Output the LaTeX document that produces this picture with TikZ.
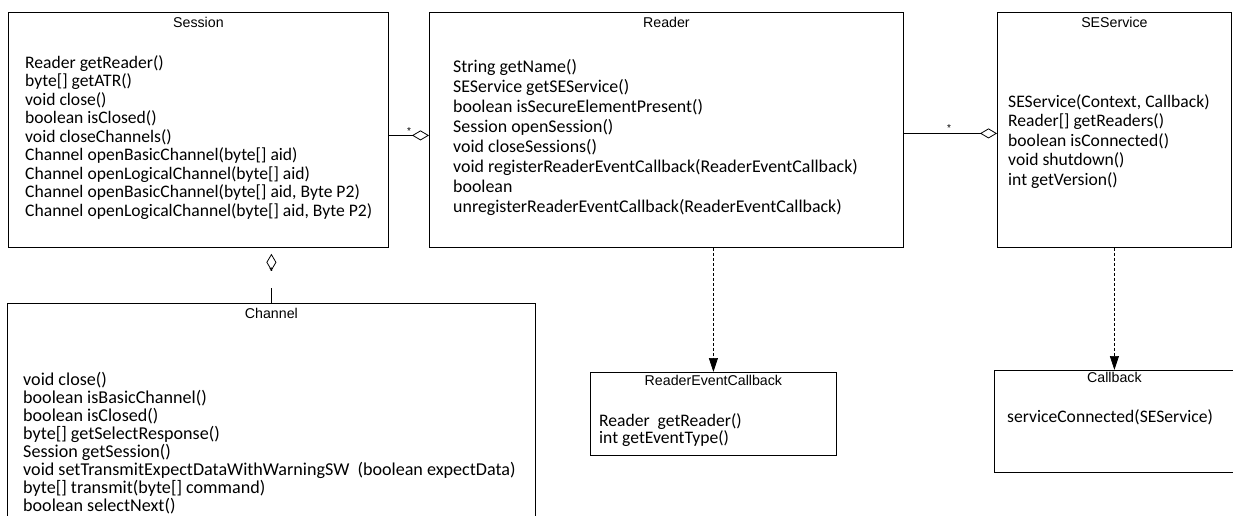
\documentclass[tikz,border=0pt]{standalone}
\usepackage{fontspec}
\usepackage{tikz}
\usetikzlibrary{positioning, arrows.meta}
\newfontfamily\umlbody{Carlito}
\newfontfamily\umlhead{Liberation Sans}

\tikzset{
  classbox/.style={draw, line width=0.8pt, inner sep=0pt, anchor=north west},
  classname/.style={font=\umlhead\fontsize{14.2}{16}\selectfont, inner sep=0pt},
  methods/.style 2 args={font=\umlbody\fontsize{#1}{#2}\selectfont, align=left, anchor=base west, inner sep=0pt},
  mult/.style={font=\umlhead\fontsize{10}{11}\selectfont, inner sep=0pt},
  aggr/.style={line width=0.8pt, -{Diamond[open, length=17pt, width=10pt]}},
  depend/.style={line width=0.7pt, dash pattern=on 3pt off 2pt, -{Triangle[length=14pt, width=9pt]}},
}

\begin{document}
\begin{tikzpicture}[x=1pt, y=-1pt]
    \useasboundingbox (0,0) rectangle (1233,515);
    \clip (0,0) rectangle (1233,515);

    % classes
    \node[classbox, minimum width=380pt, minimum height=235pt] (session) at (8,12) {};
    \node[classbox, minimum width=474pt, minimum height=235pt] (reader) at (429,12) {};
    \node[classbox, minimum width=234pt, minimum height=235pt] (seservice) at (997,12) {};
    \node[classbox, minimum width=528pt, minimum height=240pt] (channel) at (7,303) {};
    \node[classbox, minimum width=246pt, minimum height=83pt] (rec) at (590,372) {};
    \node[classbox, minimum width=240pt, minimum height=102pt] (callback) at (994,370) {};

    \node[classname, below=5pt of session.north] (session-name) {Session};
    \node[classname, below=5pt of reader.north] (reader-name) {Reader};
    \node[classname, below=5pt of seservice.north] (seservice-name) {SEService};
    \node[classname, below=5pt of channel.north] (channel-name) {Channel};
    \node[classname, below=3pt of rec.north] (rec-name) {ReaderEventCallback};
    \node[classname, below=2pt of callback.north] (callback-name) {Callback};

    % operations (placed at the baseline of their last line)
    \node[methods={17.6}{18.5}] (session-ops) at (25,216) {Reader getReader()\\
        byte[] getATR()\\
        void close()\\
        boolean isClosed()\\
        void closeChannels()\\
        Channel openBasicChannel(byte[] aid)\\
        Channel openLogicalChannel(byte[] aid)\\
        Channel openBasicChannel(byte[] aid, Byte P2)\\
        Channel openLogicalChannel(byte[] aid, Byte P2)};
    \node[methods={17.9}{20}] (reader-ops) at (453,212) {String getName()\\
        SEService getSEService()\\
        boolean isSecureElementPresent()\\
        Session openSession()\\
        void closeSessions()\\
        void registerReaderEventCallback(ReaderEventCallback)\\
        boolean\\
        unregisterReaderEventCallback(ReaderEventCallback)};
    \node[methods={17.6}{19.5}] (seservice-ops) at (1008,185) {SEService(Context, Callback)\\
        Reader[] getReaders()\\
        boolean isConnected()\\
        void shutdown()\\
        int getVersion()};
    \node[methods={18.1}{17.9}] (channel-ops) at (23,511) {void close()\\
        boolean isBasicChannel()\\
        boolean isClosed()\\
        byte[] getSelectResponse()\\
        Session getSession()\\
        void setTransmitExpectDataWithWarningSW~~(boolean expectData)\\
        byte[] transmit(byte[] command)\\
        boolean selectNext()};
    \node[methods={17.6}{17}] (rec-ops) at (599,443) {Reader~ getReader()\\
        int getEventType()};
    \node[methods={17.6}{18}] (callback-ops) at (1007,422) {serviceConnected(SEService)};

    % associations
    \path[aggr]
        ([yshift=-5.5pt]session.east) edge ([yshift=-5.5pt]reader.west)
        ([yshift=-3.5pt]reader.east) edge ([yshift=-3.5pt]seservice.west);
    \node[mult] (sr-star) at ([xshift=-20pt, yshift=-1.5pt]reader.west) {*};
    \node[mult] (rs-star) at ([xshift=-48pt, yshift=1.5pt]seservice.west) {*};

    \coordinate[above=15pt of channel.north] (chan-link);
    \draw[line width=0.8pt] (channel.north) -- (chan-link);
    \node[mult, above=13pt of chan-link] (sc-star) {*};
    \draw[aggr] ([yshift=-23pt]session.south -| chan-link) -- ([yshift=-6pt]session.south -| chan-link);

    \path[depend]
        (reader.south -| rec.north) edge (rec.north)
        (seservice.south) edge (callback.north);
\end{tikzpicture}
\end{document}
